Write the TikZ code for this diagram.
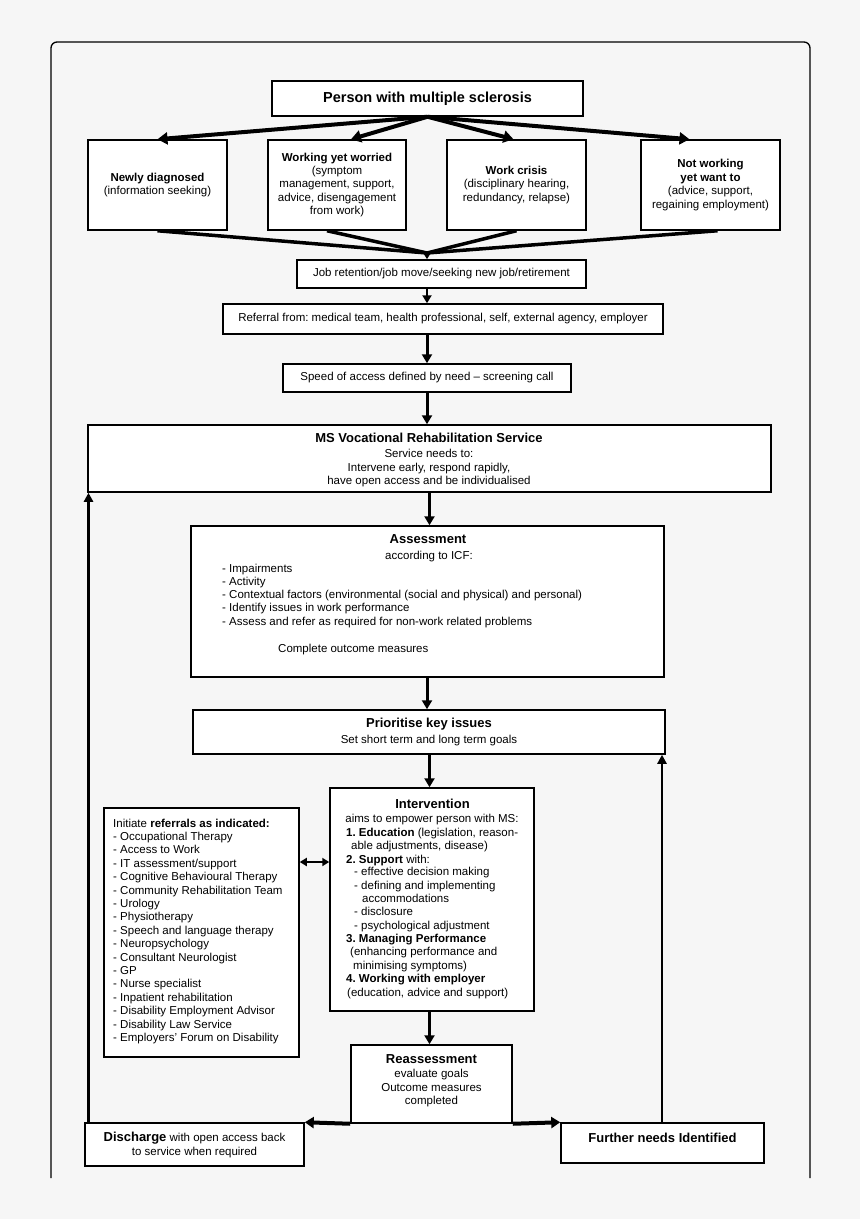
\documentclass[tikz,border=0pt]{standalone}
\usepackage{fontspec}
\setmainfont{Liberation Sans}
\usetikzlibrary{arrows.meta}
\definecolor{bgc}{HTML}{F6F6F6}
\newcommand\bodyf{\fontsize{11.5}{13.4}\selectfont}
\newcommand\ttlf{\fontsize{13}{15}\selectfont\bfseries}
\frenchspacing
\begin{document}
\begin{tikzpicture}[x=1pt,y=-1pt,
  box/.style={draw=black, line width=1.5pt, fill=white, inner sep=0pt, align=center, font=\bodyf},
  txt/.style={inner sep=0pt, font=\bodyf, anchor=base},
  txtl/.style={inner sep=0pt, font=\bodyf, anchor=base west},
  vflow/.style={line width=3pt, -{Triangle[length=9pt,width=10pt]}},
  fan/.style={line width=4pt, -{Triangle[length=10pt,width=12pt]}},
  fanin/.style={line width=3.5pt},
  loopline/.style={line width=2.5pt, -{Triangle[length=9pt,width=9pt]}},
  side/.style={line width=4pt, -{Triangle[length=9pt,width=11pt]}},
  both/.style={line width=2pt, {Triangle[length=7pt,width=8pt]}-{Triangle[length=7pt,width=8pt]}}
]
\useasboundingbox (0,0) rectangle (860,1219);
\fill[bgc] (0,0) rectangle (860,1219);
% frame
\draw[line width=1.3pt, rounded corners=6pt] (51,1178) -- (51,42) -- (810,42) -- (810,1178);

% top
\node[box, minimum width=311pt, minimum height=35pt, font=\fontsize{14.5}{16}\selectfont\bfseries] (p) at (427.5,98.5) {Person with multiple sclerosis};
\node[box, minimum width=139pt, minimum height=90pt] (b1) at (157.5,185) {\textbf{Newly diagnosed}\\(information seeking)};
\node[box, minimum width=138pt, minimum height=90pt] (b2) at (337,185) {\textbf{Working yet worried}\\(symptom\\management, support,\\advice, disengagement\\from work)};
\node[box, minimum width=139pt, minimum height=90pt] (b3) at (516.5,185) {\textbf{Work crisis}\\(disciplinary hearing,\\redundancy, relapse)};
\node[box, minimum width=139pt, minimum height=90pt] (b4) at (710.5,185) {\textbf{Not working}\\\textbf{yet want to}\\(advice, support,\\regaining employment)};

\node[box, minimum width=289pt, minimum height=28pt] (job) at (441.5,274) {Job retention/job move/seeking new job/retirement};
\node[box, minimum width=440pt, minimum height=30pt] (ref) at (443,319) {Referral from: medical team, health professional, self, external agency, employer};
\node[box, minimum width=288pt, minimum height=28pt] (spd) at (427,378) {Speed of access defined by need -- screening call};

\node[box, minimum width=683pt, minimum height=67pt] (ms) at (429.5,458.5) {};
\node[txt] (mst) at (429,442.5) {\ttlf MS Vocational Rehabilitation Service};
\node[txt] (ms1) at (429,457) {Service needs to:};
\node[txt] (ms2) at (429,471) {Intervene early, respond rapidly,};
\node[txt] (ms3) at (429,484.5) {have open access and be individualised};

\node[box, minimum width=473pt, minimum height=151pt] (ass) at (427.5,601.5) {};
\node[txt] (ast) at (428,543.5) {\ttlf Assessment};
\node[txt] (asi) at (429,559) {according to ICF:};
\foreach \t [count=\i from 0] in {Impairments,Activity,Contextual factors (environmental (social and physical) and personal),Identify issues in work performance,Assess and refer as required for non-work related problems}
  \node[txtl] (al\i) at (222,572+13.3*\i) {- \t};
\node[txtl] (aco) at (278,652) {Complete outcome measures};

\node[box, minimum width=472pt, minimum height=44pt] (pr) at (429,732) {};
\node[txt] (prt) at (429,727.5) {\ttlf Prioritise key issues};
\node[txt] (prs) at (429,743) {Set short term and long term goals};

\node[box, minimum width=204pt, minimum height=223pt] (int) at (432,899.5) {};
\node[txt] (it0) at (432.5,808) {\ttlf Intervention};
\node[txt] (it1) at (432,822) {aims to empower person with MS:};
\node[txtl] (it2) at (346,836) {\textbf{1. Education} (legislation, reason-};
\node[txtl] (it3) at (351,849) {able adjustments, disease)};
\node[txtl] (it4) at (346,863) {\textbf{2. Support} with:};
\node[txtl] (it5) at (354,875.5) {- effective decision making};
\node[txtl] (it6) at (354,889) {- defining and implementing};
\node[txtl] (it7) at (362,902) {accommodations};
\node[txtl] (it8) at (354,915) {- disclosure};
\node[txtl] (it9) at (354,929) {- psychological adjustment};
\node[txtl] (it10) at (346,942) {\textbf{3. Managing Performance}};
\node[txtl] (it11) at (350,955) {(enhancing performance and};
\node[txtl] (it12) at (353,969) {minimising symptoms)};
\node[txtl] (it13) at (346,982) {\textbf{4. Working with employer}};
\node[txtl] (it14) at (347,996) {(education, advice and support)};

\node[box, minimum width=195pt, minimum height=249pt] (refl) at (201.5,932.5) {};
\node[txtl] (ri0) at (113,827) {Initiate \textbf{referrals as indicated:}};
\foreach \t [count=\i] in {Occupational Therapy,Access to Work,IT assessment/support,Cognitive Behavioural Therapy,Community Rehabilitation Team,Urology,Physiotherapy,Speech and language therapy,Neuropsychology,Consultant Neurologist,GP,Nurse specialist,Inpatient rehabilitation,Disability Employment Advisor,Disability Law Service,Employers' Forum on Disability}
  \node[txtl] (ri\i) at (113,827+13.4*\i) {- \t};

\node[box, minimum width=161pt, minimum height=78pt] (re) at (431.5,1084) {};
\node[txt] (ret) at (431.5,1063.5) {\ttlf Reassessment};
\node[txt] (re1) at (431.5,1077) {evaluate goals};
\node[txt] (re2) at (431.5,1091) {Outcome measures};
\node[txt] (re3) at (431.5,1104) {completed};

\node[box, minimum width=219pt, minimum height=43pt] (dis) at (194.5,1144.5) {};
\node[txt] (di1) at (194.5,1141.5) {{\ttlf Discharge} with open access back};
\node[txt] (di2) at (194.5,1155) {to service when required};

\node[box, minimum width=203pt, minimum height=40pt] (fn) at (662.5,1143) {};
\node[txt] (fnt) at (662.5,1142.5) {\ttlf Further needs Identified};

% coordinates for connector columns
\coordinate (ax) at (427,0);
\coordinate (bx) at (429.5,0);
\coordinate (lx) at (88.5,0);
\coordinate (rx) at (662,0);
\coordinate (dy) at (0,862);
\coordinate (cv) at (427,253);

% fan out
\draw[fan] (p.south) -- (b1.north);
\draw[fan] (p.south) -- ([xshift=14pt]b2.north);
\draw[fan] (p.south) -- ([xshift=-3pt]b3.north);
\draw[fan] (p.south) -- ([xshift=-21pt]b4.north);
% fan in
\draw[fanin] (b1.south) -- (cv);
\draw[fanin] ([xshift=-10pt]b2.south) -- (cv);
\draw[fanin] (b3.south) -- (cv);
\draw[fanin] ([xshift=7pt]b4.south) -- (cv);
\draw[line width=2pt, -{Triangle[length=8pt,width=9pt]}] (cv) -- (job.north -| ax);

% main column
\draw[line width=2.2pt, -{Triangle[length=8pt,width=9pt]}] (job.south -| ax) -- (ref.north -| ax);
\draw[vflow] (ref.south -| ax) -- (spd.north -| ax);
\draw[vflow] (spd.south -| ax) -- (ms.north -| ax);
\draw[vflow] (ms.south -| bx) -- (ass.north -| bx);
\draw[vflow] (ass.south -| ax) -- (pr.north -| ax);
\draw[vflow] (pr.south -| bx) -- (int.north -| bx);
\draw[vflow] (int.south -| bx) -- (re.north -| bx);

% side connectors
\draw[both] (refl.east |- dy) -- (int.west |- dy);
\draw[side] (re.south west) -- (dis.north east);
\draw[side] (re.south east) -- (fn.north west);
\draw[loopline] (dis.north -| lx) -- (ms.south -| lx);
\draw[loopline] (fn.north -| rx) -- (pr.south -| rx);
\end{tikzpicture}
\end{document}
